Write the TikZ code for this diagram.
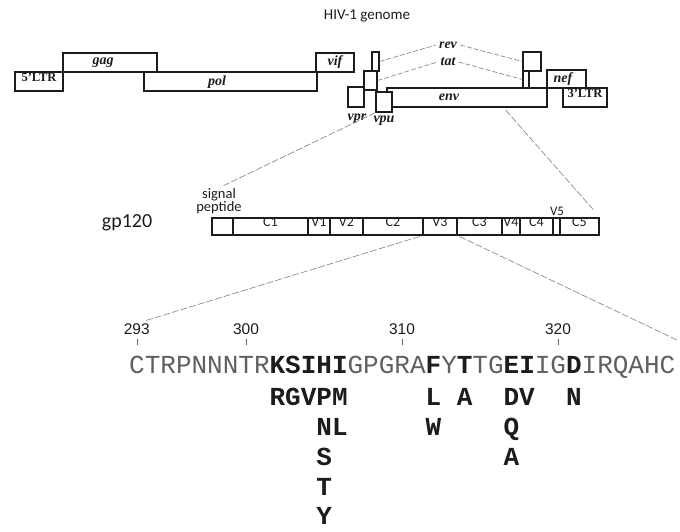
\documentclass[tikz,border=0pt]{standalone}
\usepackage{fontspec}
\setmainfont{Liberation Serif}
\newfontfamily\calibri{Carlito}
\newfontfamily\arial{Liberation Sans}
\newfontfamily\courier{Liberation Mono}
\usetikzlibrary{fit}
\definecolor{Ink}{HTML}{1C1C1C}
\definecolor{Faint}{HTML}{8C8C8C}
\definecolor{Seq}{HTML}{606060}
\newcommand{\keyres}[1]{\textbf{\color{Ink}#1}}
\tikzset{
  gene/.style={draw=Ink,line width=1.2pt,fill=white,inner sep=0pt},
  genelbl/.style={font=\fontsize{14}{14}\selectfont\bfseries\itshape,text=Ink,inner sep=3pt},
  ltrlbl/.style={font=\fontsize{12.5}{12.5}\selectfont\bfseries,text=Ink},
  title/.style={font=\calibri\fontsize{15}{15}\selectfont,text=Ink},
  gpbox/.style={draw=Ink,line width=1.7pt,inner sep=0pt},
  gpseg/.style={draw=Ink,line width=1.2pt,inner sep=0pt,
    font=\calibri\fontsize{14}{14}\selectfont,text=Ink},
  gplbl/.style={font=\calibri\fontsize{20}{20}\selectfont,text=Ink},
  siglbl/.style={font=\calibri\fontsize{14.5}{12}\selectfont,text=Ink,
    inner sep=0pt,align=center},
  zoomline/.style={draw=Faint,line width=0.7pt,dash pattern=on 7pt off 2pt},
  splice/.style={draw=Faint,line width=0.7pt,dash pattern=on 5pt off 2pt},
  posnum/.style={font=\arial\fontsize{15.5}{15.5}\selectfont,inner sep=0pt,text=Ink},
  ticker/.style={draw=Ink!70,line width=0.6pt},
  seqtxt/.style={font=\courier\fontsize{26}{26}\selectfont,inner sep=0pt,
    text=Seq,anchor=base west},
  mut/.style={font=\courier\fontsize{26}{26}\selectfont\bfseries,inner sep=0pt,
    text=Ink,anchor=base west}
}
\begin{document}
\begin{tikzpicture}[x=1pt,y=-1pt]
\useasboundingbox (0,0) rectangle (680,531);

% genome map
\node[title] (title) at (367,16) {HIV-1 genome};
\node[gene,ltrlbl,fit={(15,72)(63,91)}] (ltr5) {5'LTR};
\foreach \n/\a/\b/\c/\d in {gag/63/53/157/72, pol/144/72/317/91,
    vif/316/53/354/72, rev1/372/52/379/71, tat1/364/71/377/90,
    vpr/348/87/364/107, env/387/88/547/107, vpu/376/92/392/112,
    rev2/523/52/541/71, tat2/523/71/529/88, nef/547/70/586/88}
  \node[gene,fit={(\a,\b)(\c,\d)}] (\n) {};
\node[gene,ltrlbl,fit={(563,88)(607,107)}] (ltr3) {3'LTR};
\foreach \n/\x/\y in {gag/103/63, pol/217/82, vif/335/62, rev/448/45,
    tat/448/62, env/449/97, nef/563/79, vpr/357/119, vpu/384/121}
  \node[genelbl] (lbl-\n) at (\x,\y) {\n};
\draw[splice] (rev1.east) -- (lbl-rev.west);
\draw[splice] (lbl-rev.east) -- (rev2.west);
\draw[splice] (tat1.east) -- (lbl-tat.west);
\draw[splice] (lbl-tat.east) -- (tat2.west);

% gp120
\node[gplbl] (gplbl) at (127,223) {gp120};
\foreach \n/\a/\b/\t in {sp/212/233/, c1/233/308/C1, v1/308/330/V1,
    v2/330/363/V2, c2/363/423/C2, v3/423/457/V3, c3/457/502/C3,
    v4/502/520/V4, c4/520/553/C4, v5/553/560/, c5/560/599/C5}
  \node[gpseg,fit={(\a,218)(\b,235)}] (seg-\n) {\t};
\node[gpbox,fit={(212,218)(599,235)}] (gp) {};
\node[siglbl] (sig) at (219,201) {signal\\peptide};
\node[siglbl,font=\calibri\fontsize{13}{13}\selectfont] (v5lbl) at (557,211) {V5};
\coordinate (envcut) at (503,107);
\draw[zoomline,shorten >=5pt] (vpu.south west) -- (sig.north);
\draw[zoomline,shorten <=4pt,shorten >=10pt] (envcut) -- (gp.north east);

% V3 loop sequence
\node[seqtxt] (seq) at (129,373)
  {CTRPNNNTR\keyres{KSIHI}GPGRA\keyres{F}Y\keyres{T}TG\keyres{EI}IG\keyres{D}IRQAHC};
\foreach \n/\i in {293/0, 300/7, 310/17, 320/27} {
  \node[posnum] (p\n) at ({136.8+15.6*\i},329) {\n};
  \draw[ticker] (p\n.south) ++(0,4) -- ++(0,6);
}
\coordinate (seqend) at (677,340);
\draw[zoomline,shorten <=3pt,shorten >=8pt] (seg-v3.south west) -- (p293.north);
\draw[zoomline,shorten <=2pt] (seg-v3.south east) -- (seqend);
\foreach \i/\y/\t in {9/405/RGVPM, 12/435/NL, 12/465/S, 12/495/T, 12/524/Y,
    19/405/L, 19/435/W, 21/405/A, 24/405/DV, 24/435/Q, 24/465/A, 28/405/N}
  \node[mut] (m\i-\y) at ({129+15.6*\i},\y) {\t};
\end{tikzpicture}
\end{document}
